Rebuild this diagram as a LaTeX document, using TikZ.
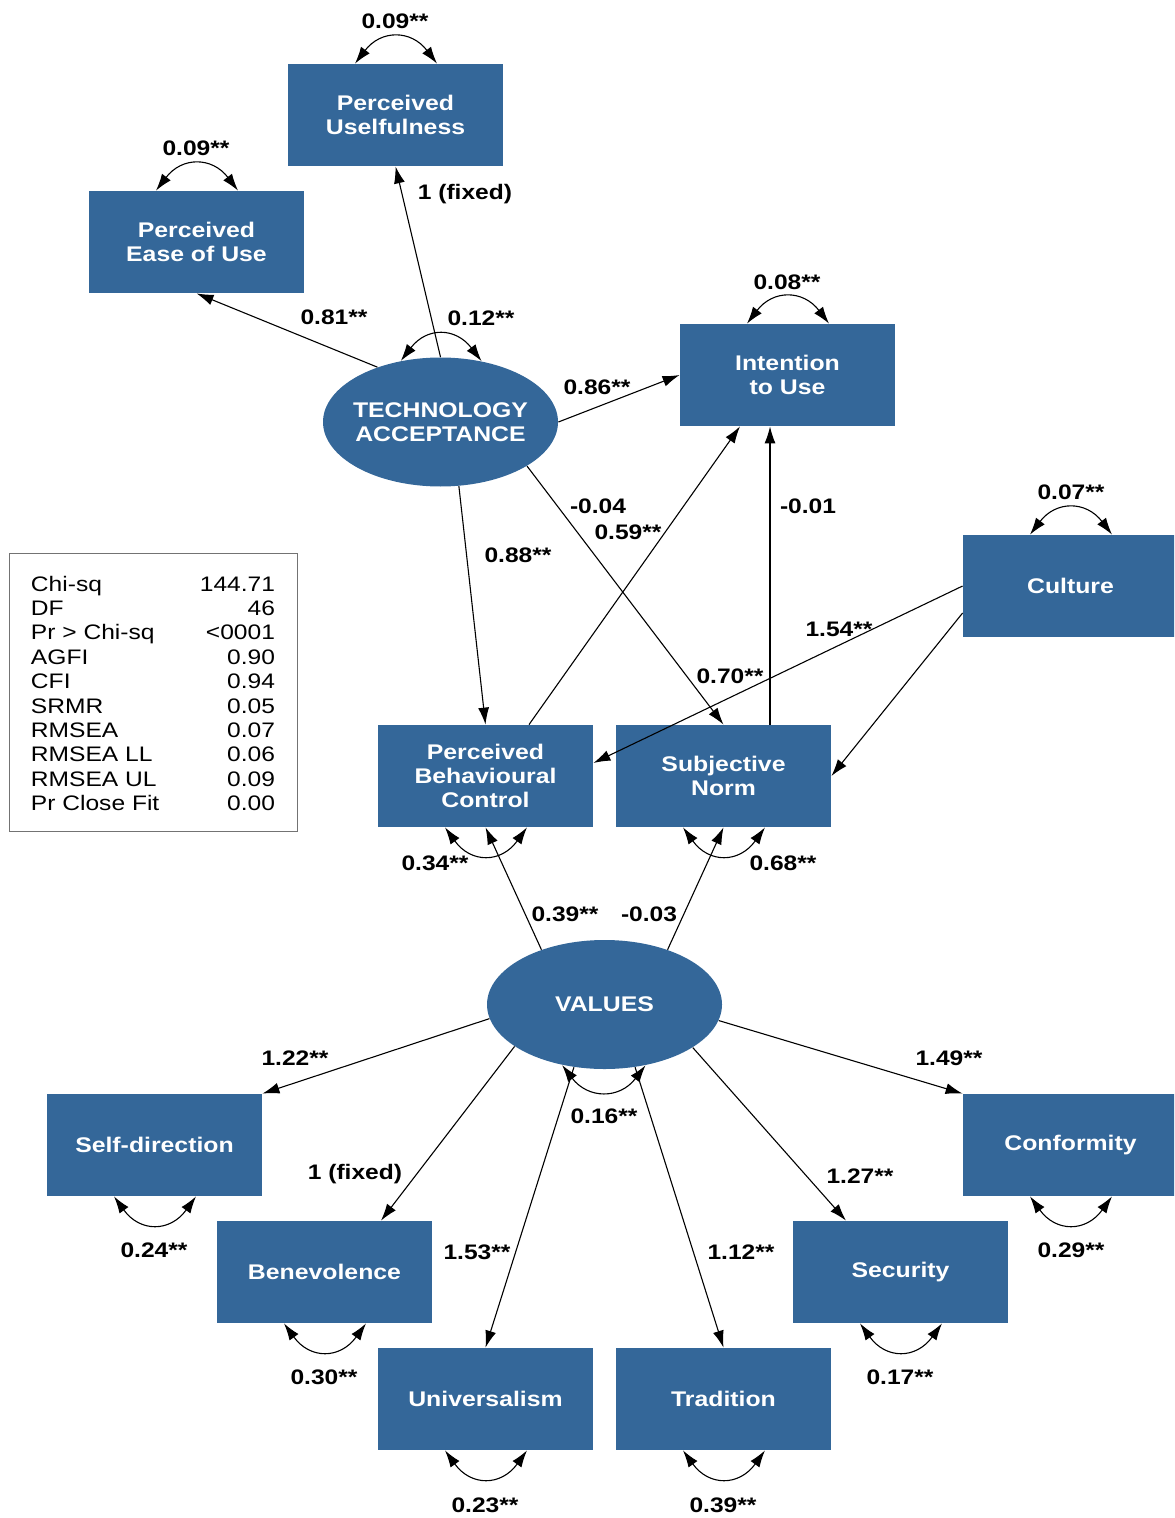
\documentclass[tikz,border=0pt]{standalone}
\usepackage{fontspec}
\setmainfont[FakeStretch=1.17]{Liberation Sans}
\usetikzlibrary{arrows.meta,shapes.geometric}
\definecolor{semblue}{RGB}{52,103,153}
\begin{document}
\begin{tikzpicture}[x=0.5pt,y=-0.5pt,
  every node/.style={font=\fontsize{10.5}{12.2}\selectfont},
  box/.style={rectangle, fill=semblue, minimum width=107.5pt, minimum height=51pt,
    inner sep=0pt, text=white, align=center, font=\fontsize{10.6}{12.2}\selectfont\bfseries},
  latent/.style={ellipse, fill=semblue, minimum width=117.5pt, minimum height=64.5pt, inner sep=0pt},
  ltext/.style={text=white, align=center, inner sep=0pt, font=\fontsize{10.6}{12.2}\selectfont\bfseries},
  lab/.style={inner sep=0pt, font=\fontsize{10.5}{12.2}\selectfont\bfseries},
  tip/.tip={Latex[length=8.5pt,width=5.5pt]},
  reg/.style={-tip, line width=0.55pt},
  covar/.style={tip-tip, line width=0.55pt},
]
\path[use as bounding box, clip] (0,0) rectangle (1174,1518);

% ---------- latent variables ----------
\node[latent] (TA) at (440.5,422) {};
\node[ltext] (TAt) at (TA) {TECHNOLOGY\\ACCEPTANCE};
\node[latent] (VAL) at (604.5,1004.5) {};
\node[ltext] (VALt) at (VAL) {VALUES};

% ---------- observed variables ----------
\node[box] (PU)  at (395.5,115)  {Perceived\\Uselfulness};
\node[box] (PEOU) at (196.5,242) {Perceived\\Ease of Use};
\node[box] (IU)  at (787.5,375)  {Intention\\to Use};
\node[box] (CU)  at (1070.5,586) {Culture};
\node[box] (PBC) at (485.5,776)  {Perceived\\Behavioural\\Control};
\node[box] (SN)  at (723.5,776)  {Subjective\\Norm};
\node[box] (SD)  at (154.5,1145) {Self-direction};
\node[box] (CF)  at (1070.5,1145) {Conformity};
\node[box] (BE)  at (324.5,1272) {Benevolence};
\node[box] (SE)  at (900.5,1272) {Security};
\node[box] (UN)  at (485.5,1399) {Universalism};
\node[box] (TR)  at (723.5,1399) {Tradition};

% ---------- fit statistics ----------
\node[draw=black!55, line width=0.5pt, minimum width=144pt, minimum height=139pt, inner sep=0pt] (fitbox) at (153,692) {};
\node[inner sep=0pt] (fit) at (153,696) {%
  \begin{tabular*}{122pt}{@{}l@{\extracolsep{\fill}}r@{}}
  Chi-sq & 144.71\\
  DF & 46\\
  Pr > Chi-sq & <0001\\
  AGFI & 0.90\\
  CFI & 0.94\\
  SRMR & 0.05\\
  RMSEA & 0.07\\
  RMSEA LL & 0.06\\
  RMSEA UL & 0.09\\
  Pr Close Fit & 0.00
  \end{tabular*}};

% ---------- structural paths ----------
\draw[reg] (TA.north) -- (PU.south);
\draw[reg] (TA.139) -- (PEOU.south);
\draw[reg] (TA.east) -- (IU.west);
\draw[reg] (TA.286.7) -- (PBC.north);
\draw[reg] (TA.333) -- (SN.north);
\draw[reg] ([xshift=21.75pt]PBC.north) -- ([xshift=-23.75pt]IU.south);
\draw[reg] ([xshift=23.25pt]SN.north) -- ([xshift=-8.75pt]IU.south);
\draw[reg] (CU.west) -- ([yshift=6.5pt]PBC.east);
\draw[reg] ([yshift=-13.5pt]CU.west) -- (SN.east);

\draw[reg] (VAL.139) -- (PBC.south);
\draw[reg] (VAL.41) -- (SN.south);
\draw[reg] (VAL.187.7) -- (SD.north east);
\draw[reg] (VAL.205.9) -- ([xshift=28.25pt]BE.north);
\draw[reg] (VAL.244) -- (UN.north);
\draw[reg] (VAL.296) -- (TR.north);
\draw[reg] (VAL.334.1) -- ([xshift=-27.25pt]SE.north);
\draw[reg] (VAL.352.3) -- (CF.north west);

% ---------- variances ----------
\draw[covar] ([xshift=-20.25pt]PU.north) .. controls +(13pt,17pt) and +(-13pt,17pt) .. ([xshift=20.75pt]PU.north);
\draw[covar] ([xshift=-20.25pt]PEOU.north) .. controls +(13pt,17pt) and +(-13pt,17pt) .. ([xshift=20.75pt]PEOU.north);
\draw[covar] ([xshift=-20.25pt]IU.north) .. controls +(13pt,17pt) and +(-13pt,17pt) .. ([xshift=20.75pt]IU.north);
\draw[covar] ([xshift=-20.25pt]CU.north) .. controls +(13pt,17pt) and +(-13pt,17pt) .. ([xshift=20.75pt]CU.north);
\draw[covar] (TA.123.4) .. controls +(13pt,17pt) and +(-13pt,17pt) .. (TA.56.6);

\draw[covar] ([xshift=-20.25pt]PBC.south) .. controls +(13pt,-18pt) and +(-13pt,-18pt) .. ([xshift=20.75pt]PBC.south);
\draw[covar] ([xshift=-20.25pt]SN.south) .. controls +(13pt,-18pt) and +(-13pt,-18pt) .. ([xshift=20.75pt]SN.south);
\draw[covar] (VAL.235.8) .. controls +(13pt,-17pt) and +(-13pt,-17pt) .. (VAL.304.2);
\draw[covar] ([xshift=-20.25pt]SD.south) .. controls +(13pt,-18pt) and +(-13pt,-18pt) .. ([xshift=20.75pt]SD.south);
\draw[covar] ([xshift=-20.25pt]CF.south) .. controls +(13pt,-18pt) and +(-13pt,-18pt) .. ([xshift=20.75pt]CF.south);
\draw[covar] ([xshift=-20.25pt]BE.south) .. controls +(13pt,-18pt) and +(-13pt,-18pt) .. ([xshift=20.75pt]BE.south);
\draw[covar] ([xshift=-20.25pt]SE.south) .. controls +(13pt,-18pt) and +(-13pt,-18pt) .. ([xshift=20.75pt]SE.south);
\draw[covar] ([xshift=-20.25pt]UN.south) .. controls +(13pt,-18pt) and +(-13pt,-18pt) .. ([xshift=20.75pt]UN.south);
\draw[covar] ([xshift=-20.25pt]TR.south) .. controls +(13pt,-18pt) and +(-13pt,-18pt) .. ([xshift=20.75pt]TR.south);

% ---------- estimates ----------
\node[lab] (l1)  at (465,194)  {1 (fixed)};
\node[lab] (l2)  at (334,317)  {0.81**};
\node[lab] (l3)  at (481,318)  {0.12**};
\node[lab] (l4)  at (597,387)  {0.86**};
\node[lab] (l5)  at (518,555)  {0.88**};
\node[lab] (l6)  at (598,506)  {-0.04};
\node[lab] (l7)  at (628,532)  {0.59**};
\node[lab] (l8)  at (808,506)  {-0.01};
\node[lab] (l9)  at (839,629)  {1.54**};
\node[lab] (l10) at (730,676)  {0.70**};
\node[lab] (l11) at (787,282)  {0.08**};
\node[lab] (l12) at (395,21)   {0.09**};
\node[lab] (l13) at (196,148)  {0.09**};
\node[lab] (l14) at (1071,492) {0.07**};
\node[lab] (l15) at (435,863)  {0.34**};
\node[lab] (l16) at (783,863)  {0.68**};
\node[lab] (l17) at (565,914)  {0.39**};
\node[lab] (l18) at (649,914)  {-0.03};
\node[lab] (l19) at (295,1058) {1.22**};
\node[lab] (l20) at (949,1058) {1.49**};
\node[lab] (l21) at (604,1116) {0.16**};
\node[lab] (l22) at (355,1174) {1 (fixed)};
\node[lab] (l23) at (860,1176) {1.27**};
\node[lab] (l24) at (154,1250) {0.24**};
\node[lab] (l25) at (1071,1250) {0.29**};
\node[lab] (l26) at (477,1252) {1.53**};
\node[lab] (l27) at (741,1252) {1.12**};
\node[lab] (l28) at (324,1377) {0.30**};
\node[lab] (l29) at (900,1377) {0.17**};
\node[lab] (l30) at (485,1505) {0.23**};
\node[lab] (l31) at (723,1505) {0.39**};
\end{tikzpicture}
\end{document}
